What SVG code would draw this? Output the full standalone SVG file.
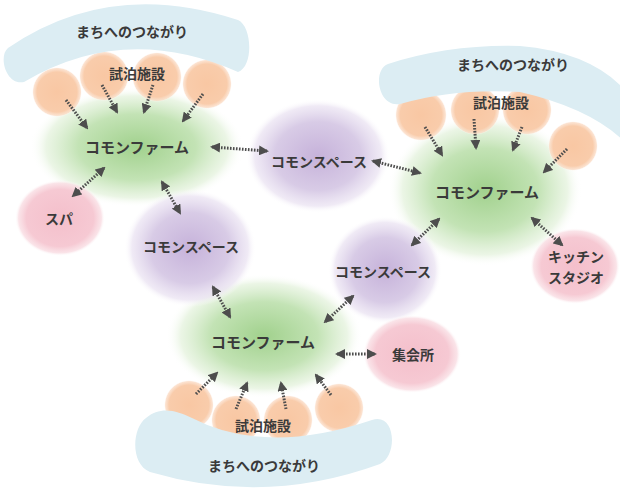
<svg xmlns="http://www.w3.org/2000/svg" width="620" height="495" viewBox="0 0 620 495">
<style>
.t{font-family:"Noto Sans CJK JP","Noto Sans CJK SC",sans-serif;font-weight:bold;fill:#3a3a3a;text-anchor:middle;dominant-baseline:central;font-size:14px}
.big{font-size:15px}
.a{fill:none;stroke:#4d4d4d;stroke-width:3;stroke-dasharray:1.6 1.4}
.band{fill:#dcedf3}
</style>
<defs>
<radialGradient id="gG"><stop offset="0" stop-color="#a1d18d"/><stop offset="0.55" stop-color="#c3e3b5"/><stop offset="0.85" stop-color="#e6f3df" stop-opacity="0.8"/><stop offset="1" stop-color="#ffffff" stop-opacity="0"/></radialGradient>
<radialGradient id="gP"><stop offset="0" stop-color="#c6b2da"/><stop offset="0.6" stop-color="#d8cbe6"/><stop offset="0.88" stop-color="#ece5f3" stop-opacity="0.8"/><stop offset="1" stop-color="#ffffff" stop-opacity="0"/></radialGradient>
<radialGradient id="gK"><stop offset="0" stop-color="#f4bfcb"/><stop offset="0.75" stop-color="#f6c9d3"/><stop offset="0.92" stop-color="#f9dde3" stop-opacity="0.8"/><stop offset="1" stop-color="#ffffff" stop-opacity="0"/></radialGradient>
<radialGradient id="gO"><stop offset="0" stop-color="#f9c7a3"/><stop offset="0.8" stop-color="#f9ccab"/><stop offset="0.94" stop-color="#fbdcc6" stop-opacity="0.8"/><stop offset="1" stop-color="#ffffff" stop-opacity="0"/></radialGradient>
<marker id="ah" viewBox="0 0 10 10" refX="8" refY="5" markerWidth="10" markerHeight="10" markerUnits="userSpaceOnUse" orient="auto-start-reverse"><path d="M0,0 L10,5 L0,10 Z" fill="#4d4d4d"/></marker>
</defs>

<g id="farm-tl"><ellipse cx="137" cy="147" rx="107" ry="60" fill="url(#gG)"/></g>
<g id="farm-r"><ellipse cx="485" cy="190" rx="97" ry="76" fill="url(#gG)"/></g>
<g id="farm-b"><ellipse cx="264" cy="336" rx="98" ry="62" fill="url(#gG)"/></g>
<g id="space-mid"><ellipse cx="318" cy="156" rx="72" ry="57" fill="url(#gP)"/></g>
<g id="space-left"><ellipse cx="190" cy="248" rx="66" ry="59" fill="url(#gP)"/></g>
<g id="space-low"><ellipse cx="385" cy="270" rx="57" ry="54" fill="url(#gP)"/></g>
<g id="spa"><ellipse cx="60" cy="218" rx="45" ry="38" fill="url(#gK)"/></g>
<g id="kitchen"><ellipse cx="575" cy="266" rx="45" ry="38" fill="url(#gK)"/></g>
<g id="hall"><ellipse cx="412" cy="354" rx="49" ry="39" fill="url(#gK)"/></g>

<g id="stay-tl">
<circle cx="57" cy="92" r="25" fill="url(#gO)"/>
<circle cx="104" cy="76" r="25" fill="url(#gO)"/>
<circle cx="157" cy="77" r="25" fill="url(#gO)"/>
<circle cx="207" cy="84" r="25" fill="url(#gO)"/>
</g>
<g id="stay-r">
<circle cx="421" cy="115" r="26" fill="url(#gO)"/>
<circle cx="475" cy="110" r="25" fill="url(#gO)"/>
<circle cx="527" cy="110" r="25" fill="url(#gO)"/>
<circle cx="573" cy="146" r="25" fill="url(#gO)"/>
</g>
<g id="stay-b">
<circle cx="189" cy="405" r="25" fill="url(#gO)"/>
<circle cx="236" cy="420" r="25" fill="url(#gO)"/>
<circle cx="288" cy="420" r="25" fill="url(#gO)"/>
<circle cx="339" cy="408" r="25" fill="url(#gO)"/>
</g>

<g id="town-tl"><path class="band" d="M8 48 Q110 -22 238 20 C252 26 254 66 238 72 Q125 22 24 82 C6 86 -2 56 8 48 Z"/></g>
<g id="town-r"><path class="band" d="M388 64 Q450 44 520 46 Q590 52 625 90 L625 142 Q590 108 520 92 Q455 88 400 104 C378 108 372 70 388 64 Z"/></g>
<g id="town-b"><path class="band" d="M146 418 C160 406 176 410 192 418 Q265 456 372 420 C396 412 398 456 380 464 Q265 506 150 472 C130 464 132 428 146 418 Z"/></g>

<g id="connectors">
<path class="a" d="M66 100 L87 128" marker-end="url(#ah)"/>
<path class="a" d="M102 85 L117 112" marker-end="url(#ah)"/>
<path class="a" d="M153 85 L144 112" marker-end="url(#ah)"/>
<path class="a" d="M203 94 L183 121" marker-end="url(#ah)"/>
<path class="a" d="M212 147 L267 151" marker-start="url(#ah)" marker-end="url(#ah)"/>
<path class="a" d="M104 168 L73 196" marker-start="url(#ah)" marker-end="url(#ah)"/>
<path class="a" d="M162 182 L180 213" marker-start="url(#ah)" marker-end="url(#ah)"/>
<path class="a" d="M213 287 L230 317" marker-start="url(#ah)" marker-end="url(#ah)"/>
<path class="a" d="M373 161 L420 173" marker-start="url(#ah)" marker-end="url(#ah)"/>
<path class="a" d="M425 127 L442 155" marker-end="url(#ah)"/>
<path class="a" d="M474 119 L476 148" marker-end="url(#ah)"/>
<path class="a" d="M522 127 L513 150" marker-end="url(#ah)"/>
<path class="a" d="M567 149 L544 172" marker-end="url(#ah)"/>
<path class="a" d="M439 219 L412 245" marker-start="url(#ah)" marker-end="url(#ah)"/>
<path class="a" d="M532 218 L562 245" marker-start="url(#ah)" marker-end="url(#ah)"/>
<path class="a" d="M353 296 L325 322" marker-start="url(#ah)" marker-end="url(#ah)"/>
<path class="a" d="M337 354 L375 354" marker-start="url(#ah)" marker-end="url(#ah)"/>
<path class="a" d="M196 394 L217 373" marker-end="url(#ah)"/>
<path class="a" d="M236 409 L247 383" marker-end="url(#ah)"/>
<path class="a" d="M286 409 L281 383" marker-end="url(#ah)"/>
<path class="a" d="M331 395 L316 375" marker-end="url(#ah)"/>
</g>

<g id="labels">
<text class="t" x="132" y="31">まちへのつながり</text>
<text class="t" x="137" y="73">試泊施設</text>
<text class="t big" x="137" y="146">コモンファーム</text>
<text class="t" x="59" y="218">スパ</text>
<text class="t" x="191" y="246">コモンスペース</text>
<text class="t" x="319" y="161">コモンスペース</text>
<text class="t" x="383" y="271">コモンスペース</text>
<text class="t" x="513" y="64">まちへのつながり</text>
<text class="t" x="501" y="102">試泊施設</text>
<text class="t big" x="487" y="191">コモンファーム</text>
<text class="t" x="576" y="256">キッチン</text>
<text class="t" x="576" y="277">スタジオ</text>
<text class="t" x="413" y="354">集会所</text>
<text class="t big" x="263" y="341">コモンファーム</text>
<text class="t" x="263" y="425">試泊施設</text>
<text class="t" x="264" y="465">まちへのつながり</text>
</g>
</svg>
